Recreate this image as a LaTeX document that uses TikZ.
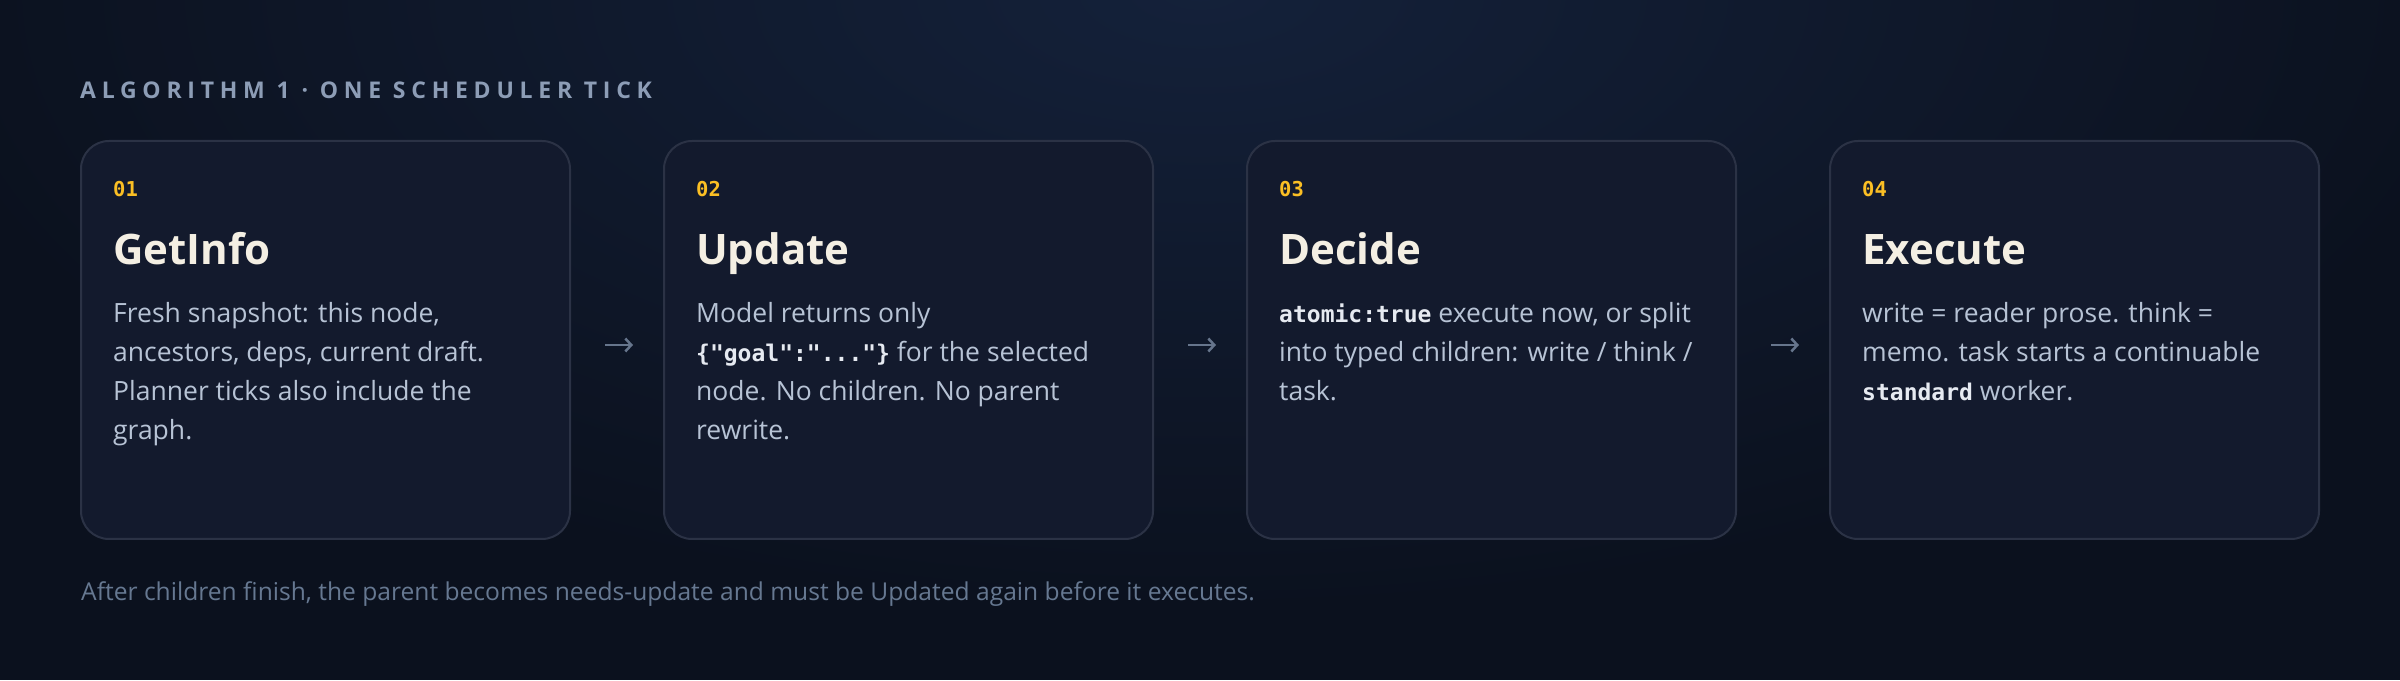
\documentclass[tikz,border=0pt]{standalone}
\usepackage{fontspec}
\setmainfont{Open Sans}
\newfontfamily\monof{DejaVu Sans Mono}
\newfontfamily\headf{Open Sans}[LetterSpace=25]
\usetikzlibrary{arrows.meta}
\definecolor{bg}{HTML}{0B111E}
\definecolor{glow}{HTML}{14213A}
\definecolor{cardfill}{HTML}{131A2D}
\definecolor{cardline}{HTML}{2B3245}
\definecolor{headc}{HTML}{8D9DB6}
\definecolor{numc}{HTML}{FBBF24}
\definecolor{titlec}{HTML}{F4EFE3}
\definecolor{bodyc}{HTML}{B7C3D5}
\definecolor{monoc}{HTML}{E6EAF1}
\definecolor{footc}{HTML}{667891}
\definecolor{arrc}{HTML}{66758C}
\newcommand{\mc}[1]{{\monof\bfseries\fontsize{23}{39}\selectfont\color{monoc}#1}}
\newcommand{\bodylines}[1]{\parbox[t]{440pt}{\raggedright\leavevmode #1}}
\tikzset{
  card/.style={draw=cardline, line width=2pt, fill=cardfill, rounded corners=28pt,
    minimum width=489pt, minimum height=398pt, inner sep=0pt},
  numtxt/.style={anchor=base west, inner sep=0pt, text=numc,
    font=\monof\bfseries\fontsize{20.5}{24}\selectfont},
  titletxt/.style={anchor=base west, inner sep=0pt, text=titlec,
    font=\bfseries\fontsize{42}{50}\selectfont},
  bodytxt/.style={anchor=base west, inner sep=0pt, text=bodyc,
    font=\fontsize{26.5}{39}\selectfont},
  arr/.style={draw=arrc, line width=2.5pt,
    -{Straight Barb[length=6pt,width=13pt,line width=2.5pt]},
    shorten <=34pt, shorten >=30pt}
}
\begin{document}
\begin{tikzpicture}[x=1pt,y=1pt]
\useasboundingbox (0,0) rectangle (2400,680);
\fill[bg] (0,0) rectangle (2400,680);
\begin{scope}
\clip (0,0) rectangle (2400,680);
\shade[inner color=glow, outer color=bg] (1200,690) ellipse (1300 and 620);
\end{scope}
\node[anchor=base west, inner sep=0pt, text=headc,
  font=\headf\bfseries\fontsize{23}{26}\selectfont] (head) at (80,581.7)
  {ALGORITHM 1 · ONE SCHEDULER TICK};
\node[card] (c1) at (325.5,340) {};
\node[card] (c2) at (908.5,340) {};
\node[card] (c3) at (1491.5,340) {};
\node[card] (c4) at (2074.5,340) {};
\draw[arr] ([yshift=-5pt]c1.east) -- ([yshift=-5pt]c2.west);
\draw[arr] ([yshift=-5pt]c2.east) -- ([yshift=-5pt]c3.west);
\draw[arr] ([yshift=-5pt]c3.east) -- ([yshift=-5pt]c4.west);
% card 1
\node[numtxt] (n1) at ([shift={(33,-56.5)}]c1.north west) {01};
\node[titletxt] (t1) at ([shift={(33,-125)}]c1.north west) {GetInfo};
\node[bodytxt] (b1) at ([shift={(33,-183)}]c1.north west)
  {\bodylines{Fresh snapshot: this node,\\ancestors, deps, current draft.\\Planner ticks also include the\\graph.}};
% card 2
\node[numtxt] (n2) at ([shift={(33,-56.5)}]c2.north west) {02};
\node[titletxt] (t2) at ([shift={(33,-125)}]c2.north west) {Update};
\node[bodytxt] (b2) at ([shift={(33,-183)}]c2.north west)
  {\bodylines{Model returns only\\\mc{\{"goal":"..."\}} for the selected\\node. No children. No parent\\rewrite.}};
% card 3
\node[numtxt] (n3) at ([shift={(33,-56.5)}]c3.north west) {03};
\node[titletxt] (t3) at ([shift={(33,-125)}]c3.north west) {Decide};
\node[bodytxt] (b3) at ([shift={(33,-183)}]c3.north west)
  {\bodylines{\mc{atomic:true} execute now, or split\\into typed children: write / think /\\task.}};
% card 4
\node[numtxt] (n4) at ([shift={(33,-56.5)}]c4.north west) {04};
\node[titletxt] (t4) at ([shift={(33,-125)}]c4.north west) {Execute};
\node[bodytxt] (b4) at ([shift={(33,-183)}]c4.north west)
  {\bodylines{write = reader prose. think =\\memo. task starts a continuable\\\mc{standard} worker.}};
\node[anchor=base west, inner sep=0pt, text=footc, font=\fontsize{24.6}{30}\selectfont] (foot) at (81,80)
  {After children finish, the parent becomes needs-update and must be Updated again before it executes.};
\end{tikzpicture}
\end{document}
